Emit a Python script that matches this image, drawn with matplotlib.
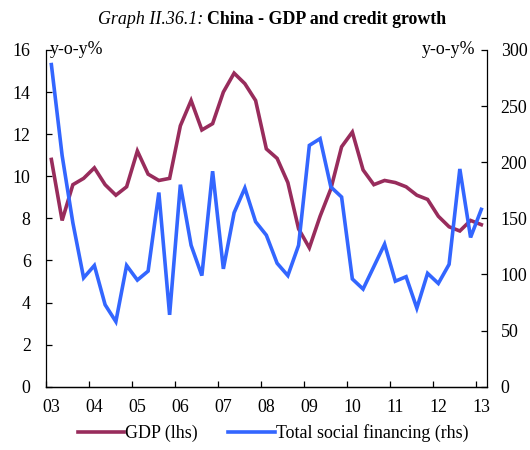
import matplotlib
matplotlib.use("Agg")
import matplotlib.pyplot as plt
import matplotlib.transforms as mtransforms
import numpy as np

plt.rcParams['font.family'] = ['Liberation Serif', 'DejaVu Serif']

# Quarterly data, 2003Q1 .. 2013Q1
gdp = [10.8, 7.9, 9.6, 9.9, 10.4, 9.6, 9.1, 9.5, 11.2, 10.1, 9.8, 9.9,
       12.4, 13.6, 12.2, 12.5, 14.0, 14.9, 14.4, 13.6, 11.3, 10.85, 9.7, 7.5,
       6.6, 8.1, 9.4, 11.4, 12.1, 10.3, 9.6, 9.8, 9.7, 9.5, 9.1, 8.9,
       8.1, 7.6, 7.4, 7.9, 7.7]
tsf = [287, 206, 146, 97, 108, 73, 58, 108, 95, 103, 173, 64,
       180, 126, 99, 192, 105, 155, 177, 147, 135, 110, 99, 126,
       215, 221, 178, 169, 96, 87, 107, 127, 94, 98, 70, 101,
       92, 109, 194, 133, 158]
years = list(range(2003, 2014))
year_labels = ["03", "04", "05", "06", "07", "08", "09", "10", "11", "12", "13"]

x = np.array([2003 + 0.125 + 0.25 * k for k in range(len(gdp))])

maroon = "#982C5C"
blue = "#3366FF"

fig = plt.figure(figsize=(5.3, 4.5), dpi=100)
ax = fig.add_axes([46/530, 1 - 386.7/450, (486.7-46)/530, (386.7-50)/450])
ax2 = ax.twinx()

l1, = ax.plot(x, gdp, color=maroon, lw=2.6, solid_joinstyle='miter')
l2, = ax2.plot(x, tsf, color=blue, lw=2.6, solid_joinstyle='miter')

ax.set_xlim(2003, 2013.25)
ax.set_ylim(0, 16)
ax2.set_ylim(0, 300)
ax.set_yticks(range(0, 17, 2))
ax2.set_yticks(range(0, 301, 50))
ax.set_xticks(years)
ax.set_xticklabels(year_labels)

fs = 12.9
for a in (ax, ax2):
    a.spines['top'].set_visible(False)
    a.tick_params(direction='in', length=4, width=0.9, labelsize=fs, colors='black')
    for s in a.spines.values():
        s.set_linewidth(0.9)
ax.tick_params(axis='y', pad=11)
ax2.tick_params(axis='y', pad=10)
ax.tick_params(axis='x', pad=9)
ax2.spines['left'].set_visible(False)
ax.spines['right'].set_visible(False)

# shift x tick labels right by a small amount (labels at mid-Q1)
offset = mtransforms.ScaledTranslation(5.5/100, 0, fig.dpi_scale_trans)
for lab in ax.get_xticklabels():
    lab.set_transform(lab.get_transform() + offset)

ax.text(0.008, 1.0, "y-o-y%", transform=ax.transAxes, fontsize=fs,
        ha='left', va='center')
ax2.text(0.975, 1.0, "y-o-y%", transform=ax2.transAxes, fontsize=fs,
         ha='right', va='center')

# Title with italic + bold parts
fig.canvas.draw()
r = fig.canvas.get_renderer()
t1 = fig.text(0, 0, "Graph II.36.1: ", fontsize=fs, style='italic')
t2 = fig.text(0, 0, "China - GDP and credit growth", fontsize=fs, weight='bold')
w1 = t1.get_window_extent(r).width
w2 = t2.get_window_extent(r).width
total = w1 + w2
cx = 272
y_title = 450 - 20
start = cx - total / 2
t1.set_position((start / 530, y_title / 450))
t2.set_position(((start + w1) / 530, y_title / 450))
t1.set_va('center'); t2.set_va('center')

fig.legend([l1, l2], ["GDP (lhs)", "Total social financing (rhs)"],
           loc='center', bbox_to_anchor=(273/530, 1 - 433/450), ncol=2,
           frameon=False, fontsize=fs, handlelength=2.6, handletextpad=0.05,
           columnspacing=1.7)

fig.savefig("out.png", dpi=100)
